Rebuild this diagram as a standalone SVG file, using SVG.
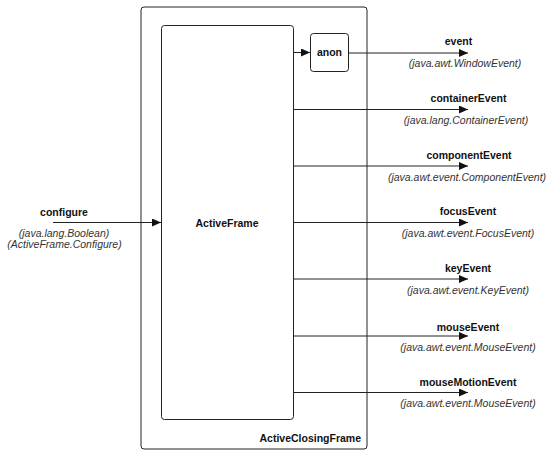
<svg xmlns="http://www.w3.org/2000/svg" width="556" height="456" viewBox="0 0 556 456">
<style>
.box{fill:#fff;stroke:#222;stroke-width:1}
.lbl{font-family:"Liberation Sans",Arial,sans-serif;font-size:10.5px;font-weight:bold;fill:#111;text-anchor:middle}
.sub{font-family:"Liberation Sans",Arial,sans-serif;font-size:10.5px;font-style:italic;fill:#333;text-anchor:middle}
.ln{stroke:#222;stroke-width:1;fill:none;marker-end:url(#ah)}
</style>
<defs>
<marker id="ah" markerWidth="9" markerHeight="8" refX="9" refY="4" orient="auto" markerUnits="userSpaceOnUse">
<path d="M0,0 L9,4 L0,8 Z" fill="#111"/>
</marker>
</defs>
<rect width="556" height="456" fill="#fff"/>
<g id="ActiveClosingFrame">
<rect class="box" x="141" y="7" width="226" height="442" rx="3"/>
<text class="lbl" x="361" y="442" style="text-anchor:end">ActiveClosingFrame</text>
</g>
<g id="ActiveFrame">
<rect class="box" x="161.5" y="25.5" width="132" height="394" rx="3"/>
<text class="lbl" x="227" y="226.5">ActiveFrame</text>
</g>
<g id="anon">
<rect class="box" x="310.5" y="33.5" width="38" height="38" rx="3"/>
<text class="lbl" x="329.5" y="56">anon</text>
</g>
<g id="connectors">
<line class="ln" x1="53" y1="222.5" x2="161" y2="222.5"/>
<line class="ln" x1="293.5" y1="52.5" x2="310" y2="52.5"/>
<line class="ln" x1="348.5" y1="53" x2="468" y2="53"/>
<line class="ln" x1="293.5" y1="109.5" x2="468" y2="109.5"/>
<line class="ln" x1="293.5" y1="166" x2="468" y2="166"/>
<line class="ln" x1="293.5" y1="222.5" x2="468" y2="222.5"/>
<line class="ln" x1="293.5" y1="279" x2="468" y2="279"/>
<line class="ln" x1="293.5" y1="336" x2="468" y2="336"/>
<line class="ln" x1="293.5" y1="392.5" x2="468" y2="392.5"/>
</g>
<g id="labels">
<text class="lbl" x="64" y="215.5">configure</text>
<text class="sub" x="64" y="237">(java.lang.Boolean)</text>
<text class="sub" x="64.5" y="248">(ActiveFrame.Configure)</text>
<text class="lbl" x="458.5" y="44.5">event</text>
<text class="sub" x="465" y="67">(java.awt.WindowEvent)</text>
<text class="lbl" x="468.5" y="102">containerEvent</text>
<text class="sub" x="466" y="124">(java.lang.ContainerEvent)</text>
<text class="lbl" x="469" y="159">componentEvent</text>
<text class="sub" x="467" y="181">(java.awt.event.ComponentEvent)</text>
<text class="lbl" x="468" y="215">focusEvent</text>
<text class="sub" x="468" y="237">(java.awt.event.FocusEvent)</text>
<text class="lbl" x="468" y="271.5">keyEvent</text>
<text class="sub" x="468" y="294">(java.awt.event.KeyEvent)</text>
<text class="lbl" x="468" y="330.5">mouseEvent</text>
<text class="sub" x="468" y="351">(java.awt.event.MouseEvent)</text>
<text class="lbl" x="468" y="385.5">mouseMotionEvent</text>
<text class="sub" x="468" y="407">(java.awt.event.MouseEvent)</text>
</g>
</svg>
